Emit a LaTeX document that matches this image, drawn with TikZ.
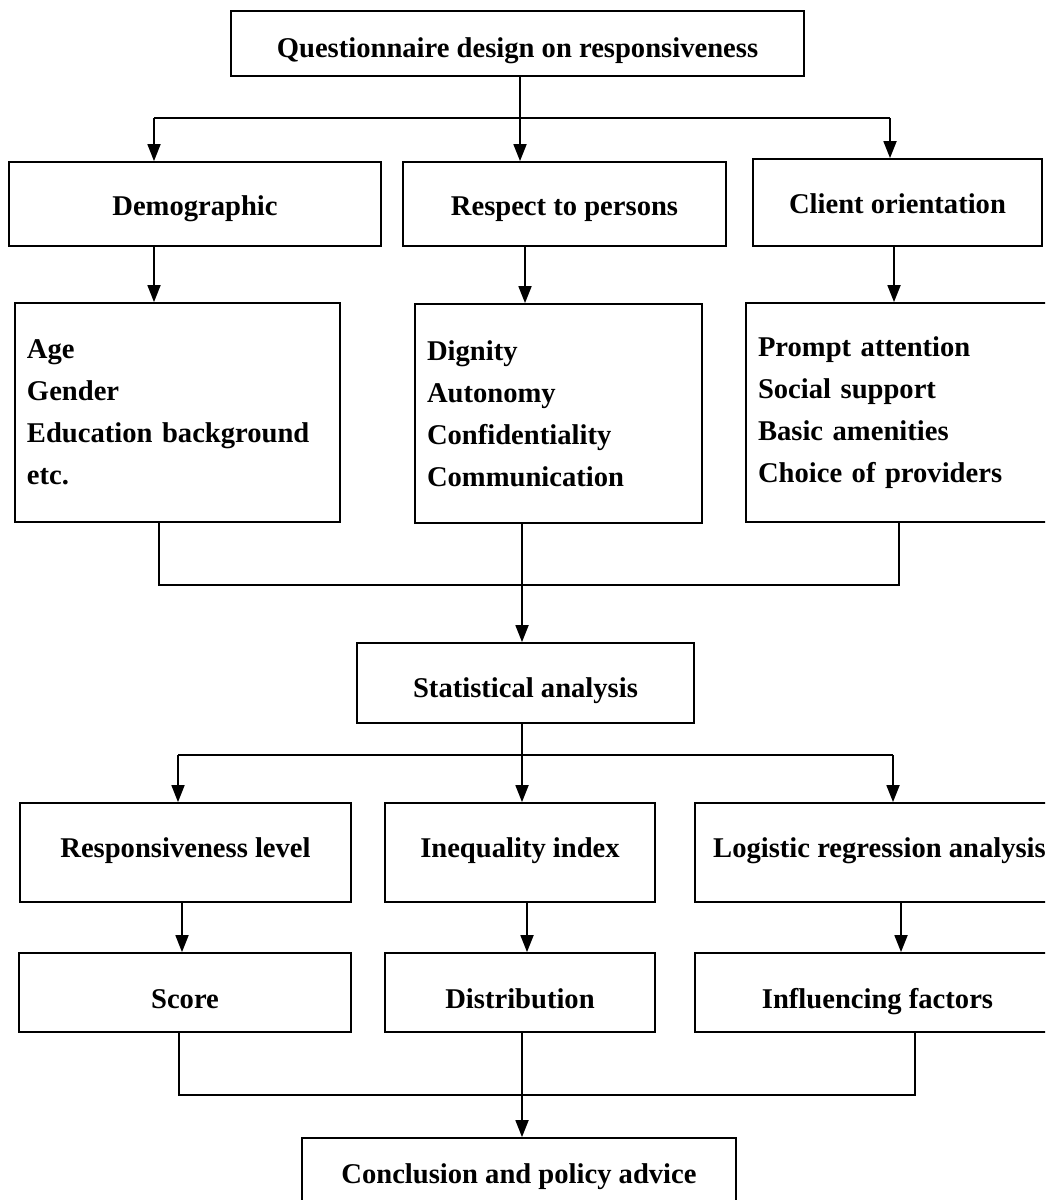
\documentclass[tikz,border=0pt]{standalone}
\usepackage{fontspec}
\setmainfont{Liberation Serif}
\usetikzlibrary{arrows.meta}
\begin{document}
\begin{tikzpicture}[x=1pt,y=1pt,
  box/.style={draw, line width=1.8pt, inner sep=0pt, font=\fontsize{28.6}{42}\selectfont\bfseries},
  tb/.style={text height=32pt, text depth=#1},
  listbox/.style={box, align=left, inner xsep=12pt},
  lbl/.style={inner sep=0pt, font=\fontsize{28.6}{42}\selectfont\bfseries},
  ln/.style={line width=1.8pt},
  arr/.style={line width=1.8pt, -{Triangle[length=17pt,width=13pt]}}]
\useasboundingbox (0,0) rectangle (1045,-1200);
\clip (0,0) rectangle (1045,-1200);
% top
\node[box, tb=4pt, minimum width=573pt, minimum height=65pt] (q) at (517.5,-43.5) {Questionnaire design on responsiveness};
% row 2
\node[box, tb=9pt, minimum width=372pt, minimum height=84pt] (demo) at (195,-204) {Demographic};
\node[box, tb=9pt, minimum width=323pt, minimum height=84pt] (resp) at (564.5,-204) {Respect to persons};
\node[box, tb=10pt, minimum width=289pt, minimum height=87pt] (cli) at (897.5,-202.5) {Client orientation};
% row 3
\node[listbox, text width=301pt, minimum height=219pt] (dlist) at (177.5,-412.5) {Age\\Gender\\Education background\\etc.};
\node[listbox, text width=263pt, minimum height=219pt] (mlist) at (558.5,-413.5) {Dignity\\Autonomy\\Confidentiality\\Communication};
\node[listbox, text width=280pt, minimum height=219pt] (clist) at (898,-412.5) {Prompt attention\\Social support\\Basic amenities\\Choice of providers};
% statistical
\node[box, tb=3pt, minimum width=337pt, minimum height=80pt] (stat) at (525.5,-683) {Statistical analysis};
% row 4
\node[box, tb=22pt, minimum width=331pt, minimum height=99pt] (rl) at (185.5,-852.5) {Responsiveness level};
\node[box, tb=22pt, minimum width=270pt, minimum height=99pt] (ii) at (520,-852.5) {Inequality index};
\node[box, minimum width=370pt, minimum height=99pt] (lr) at (880,-852.5) {};
\node[lbl, anchor=base west] (lrt) at (713,-857.5) {Logistic regression analysis};
% row 5
\node[box, tb=0pt, minimum width=332pt, minimum height=79pt] (score) at (185,-992.5) {Score};
\node[box, tb=0pt, minimum width=270pt, minimum height=79pt] (dist) at (520,-992.5) {Distribution};
\node[box, tb=0pt, minimum width=365pt, minimum height=79pt] (inf) at (877.5,-992.5) {Influencing factors};
% conclusion
\node[box, tb=11pt, minimum width=434pt, minimum height=70pt] (concl) at (519,-1173) {Conclusion and policy advice};

% connectors top
\coordinate (t) at (520,-118);
\coordinate (tl) at (154,-118);
\coordinate (tr) at (890,-118);
\draw[ln] (t |- q.south) -- (t);
\draw[ln] (tl) -- (tr);
\draw[arr] (tl) -- (tl |- demo.north);
\draw[arr] (t) -- (t |- resp.north);
\draw[arr] (tr) -- (tr |- cli.north);
% row2 -> row3
\draw[arr] ([xshift=-41pt]demo.south) -- ([xshift=-41pt]demo.south |- dlist.north);
\draw[arr] ([xshift=-39.5pt]resp.south) -- ([xshift=-39.5pt]resp.south |- mlist.north);
\draw[arr] ([xshift=-3.5pt]cli.south) -- ([xshift=-3.5pt]cli.south |- clist.north);
% join 1
\coordinate (j1) at (522,-585);
\draw[ln] ([xshift=-18.5pt]dlist.south) |- (j1) -| ([xshift=1pt]clist.south);
\draw[arr] ([xshift=-36.5pt]mlist.south) -- (j1 |- stat.north);
% stat -> row 4
\coordinate (s) at (522,-755);
\coordinate (sl) at (178,-755);
\coordinate (sr) at (893,-755);
\draw[ln] (s |- stat.south) -- (s);
\draw[ln] (sl) -- (sr);
\draw[arr] (sl) -- (sl |- rl.north);
\draw[arr] (s) -- (s |- ii.north);
\draw[arr] (sr) -- (sr |- lr.north);
% row4 -> row5
\draw[arr] ([xshift=-3.5pt]rl.south) -- ([xshift=-3.5pt]rl.south |- score.north);
\draw[arr] ([xshift=7pt]ii.south) -- ([xshift=7pt]ii.south |- dist.north);
\draw[arr] ([xshift=21pt]lr.south) -- ([xshift=21pt]lr.south |- inf.north);
% join 2
\coordinate (j2) at (522,-1095);
\draw[ln] ([xshift=-6pt]score.south) |- (j2) -| ([xshift=37.5pt]inf.south);
\draw[arr] ([xshift=2pt]dist.south) -- (j2 |- concl.north);
\end{tikzpicture}
\end{document}
